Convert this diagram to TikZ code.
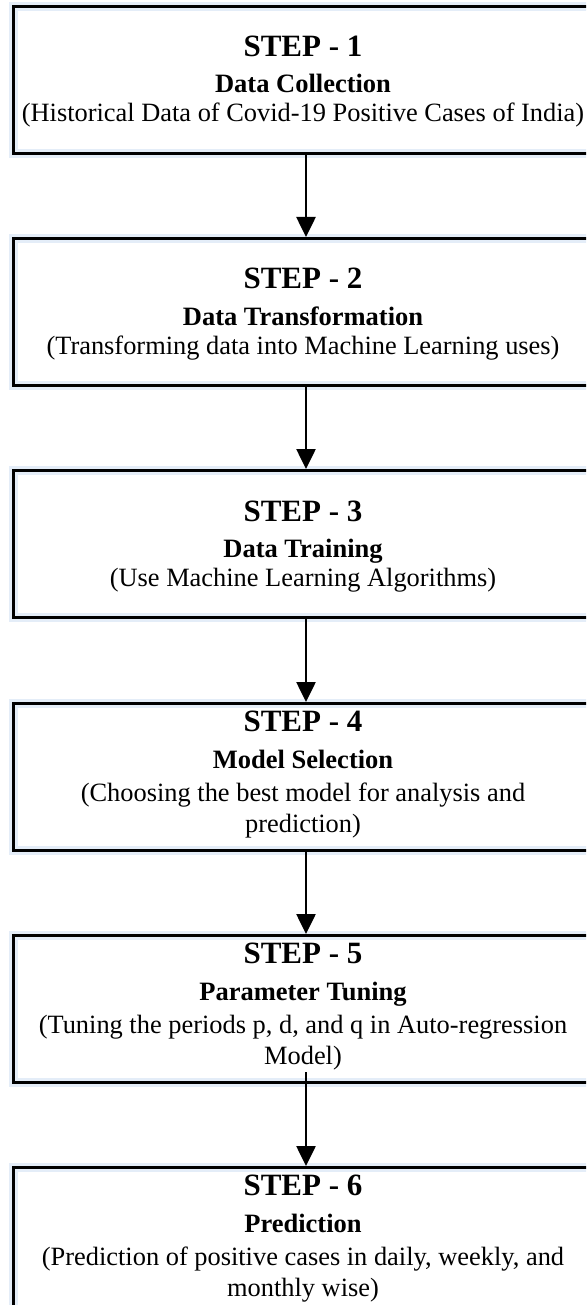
\documentclass[tikz,border=0pt]{standalone}
\usepackage{fontspec}
\setmainfont{Liberation Serif}
\usetikzlibrary{arrows.meta}
\definecolor{haze}{RGB}{228,237,248}
\begin{document}
\begin{tikzpicture}[x=1pt,y=-1pt,
  stepbox/.style={draw=black, line width=3pt, minimum width=586pt,
                  minimum height=147pt, inner sep=0pt, anchor=north,
                  preaction={draw=haze, line width=9pt}},
  headtxt/.style={font=\fontsize{31}{36}\selectfont\bfseries, anchor=base, inner sep=0pt},
  subtxt/.style={font=\fontsize{26.5}{32}\selectfont\bfseries, anchor=base, inner sep=0pt},
  desctxt/.style={font=\fontsize{26.4}{32}\selectfont, anchor=base, inner sep=0pt},
  flow/.style={line width=2.6pt, -{Triangle[width=19pt,length=20pt]}},
]
\useasboundingbox (0,0) rectangle (586,1305);
\fill[white] (0,0) rectangle (586,1305);
\clip (0,0) rectangle (586,1305);

% the six step boxes
\node[stepbox] (b1) at (306,5)    {};
\node[stepbox] (b2) at (306,237)  {};
\node[stepbox] (b3) at (306,469)  {};
\node[stepbox] (b4) at (306,702)  {};
\node[stepbox] (b5) at (306,934)  {};
\node[stepbox] (b6) at (306,1166) {};

% step 1
\node[headtxt] (h1) at (303,57)  {STEP - 1};
\node[subtxt]  (s1) at (303,93)  {Data Collection};
\node[desctxt] (d1) at (303,122) {(Historical Data of Covid-19 Positive Cases of India)};

% step 2
\node[headtxt] (h2) at (303,289) {STEP - 2};
\node[subtxt]  (s2) at (303,325) {Data Transformation};
\node[desctxt] (d2) at (303,354) {(Transforming data into Machine Learning uses)};

% step 3
\node[headtxt] (h3) at (303,521) {STEP - 3};
\node[subtxt]  (s3) at (303,557) {Data Training};
\node[desctxt] (d3) at (303,586) {(Use Machine Learning Algorithms)};

% step 4
\node[headtxt] (h4) at (303,731)  {STEP - 4};
\node[subtxt]  (s4) at (303,768)  {Model Selection};
\node[desctxt] (d4a) at (303,801) {(Choosing the best model for analysis and};
\node[desctxt] (d4b) at (303,832) {prediction)};

% step 5
\node[headtxt] (h5) at (303,963)  {STEP - 5};
\node[subtxt]  (s5) at (303,1000) {Parameter Tuning};
\node[desctxt] (d5a) at (303,1033) {(Tuning the periods p, d, and q in Auto-regression};
\node[desctxt] (d5b) at (303,1064) {Model)};

% step 6
\node[headtxt] (h6) at (303,1195) {STEP - 6};
\node[subtxt]  (s6) at (303,1232) {Prediction};
\node[desctxt] (d6a) at (303,1265) {(Prediction of positive cases in daily, weekly, and};
\node[desctxt] (d6b) at (303,1296) {monthly wise)};

% connectors
\draw[flow] (b1.south) -- (b2.north);
\draw[flow] (b2.south) -- (b3.north);
\draw[flow] (b3.south) -- (b4.north);
\draw[flow] (b4.south) -- (b5.north);
\draw[flow] ([yshift=12pt]b5.south) -- (b6.north);
\end{tikzpicture}
\end{document}
